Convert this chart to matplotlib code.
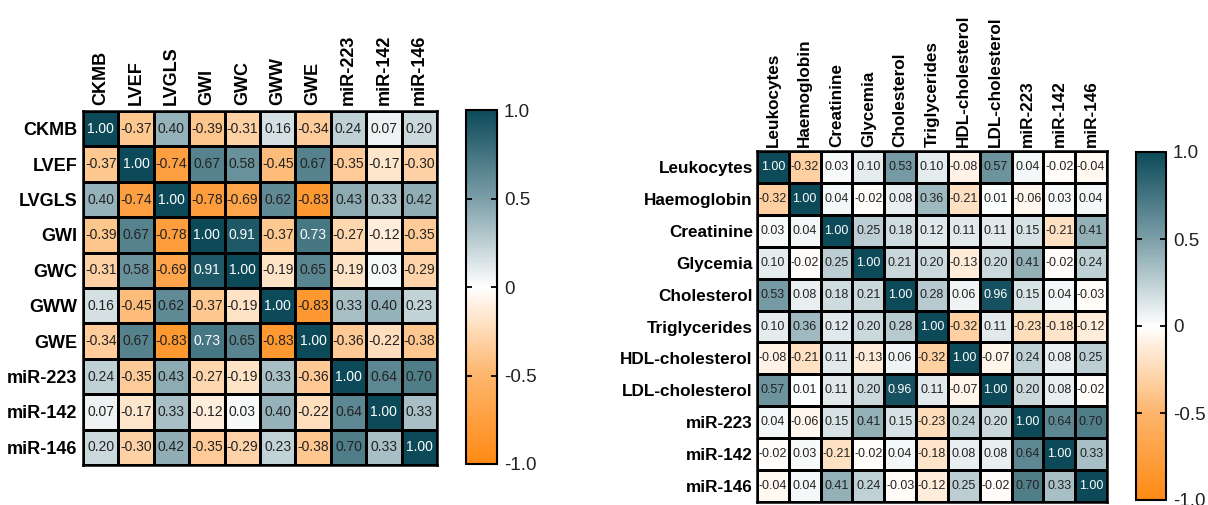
import numpy as np
import matplotlib
matplotlib.use("Agg")
import matplotlib.pyplot as plt
from matplotlib.colors import LinearSegmentedColormap

plt.rcParams['font.family'] = ['Liberation Sans', 'DejaVu Sans']

# left panel: echo / work indices vs miRNA
left_labels = ['CKMB', 'LVEF', 'LVGLS', 'GWI', 'GWC', 'GWW', 'GWE',
               'miR-223', 'miR-142', 'miR-146']
left_corr = [
    [1.00, -0.37, 0.40, -0.39, -0.31, 0.16, -0.34, 0.24, 0.07, 0.20],
    [-0.37, 1.00, -0.74, 0.67, 0.58, -0.45, 0.67, -0.35, -0.17, -0.30],
    [0.40, -0.74, 1.00, -0.78, -0.69, 0.62, -0.83, 0.43, 0.33, 0.42],
    [-0.39, 0.67, -0.78, 1.00, 0.91, -0.37, 0.73, -0.27, -0.12, -0.35],
    [-0.31, 0.58, -0.69, 0.91, 1.00, -0.19, 0.65, -0.19, 0.03, -0.29],
    [0.16, -0.45, 0.62, -0.37, -0.19, 1.00, -0.83, 0.33, 0.40, 0.23],
    [-0.34, 0.67, -0.83, 0.73, 0.65, -0.83, 1.00, -0.36, -0.22, -0.38],
    [0.24, -0.35, 0.43, -0.27, -0.19, 0.33, -0.36, 1.00, 0.64, 0.70],
    [0.07, -0.17, 0.33, -0.12, 0.03, 0.40, -0.22, 0.64, 1.00, 0.33],
    [0.20, -0.30, 0.42, -0.35, -0.29, 0.23, -0.38, 0.70, 0.33, 1.00],
]

# right panel: lab values vs miRNA
right_labels = ['Leukocytes', 'Haemoglobin', 'Creatinine', 'Glycemia',
                'Cholesterol', 'Triglycerides', 'HDL-cholesterol',
                'LDL-cholesterol', 'miR-223', 'miR-142', 'miR-146']
right_corr = [
    [1.00, -0.32, 0.03, 0.10, 0.53, 0.10, -0.08, 0.57, 0.04, -0.02, -0.04],
    [-0.32, 1.00, 0.04, -0.02, 0.08, 0.36, -0.21, 0.01, -0.06, 0.03, 0.04],
    [0.03, 0.04, 1.00, 0.25, 0.18, 0.12, 0.11, 0.11, 0.15, -0.21, 0.41],
    [0.10, -0.02, 0.25, 1.00, 0.21, 0.20, -0.13, 0.20, 0.41, -0.02, 0.24],
    [0.53, 0.08, 0.18, 0.21, 1.00, 0.28, 0.06, 0.96, 0.15, 0.04, -0.03],
    [0.10, 0.36, 0.12, 0.20, 0.28, 1.00, -0.32, 0.11, -0.23, -0.18, -0.12],
    [-0.08, -0.21, 0.11, -0.13, 0.06, -0.32, 1.00, -0.07, 0.24, 0.08, 0.25],
    [0.57, 0.01, 0.11, 0.20, 0.96, 0.11, -0.07, 1.00, 0.20, 0.08, -0.02],
    [0.04, -0.06, 0.15, 0.41, 0.15, -0.23, 0.24, 0.20, 1.00, 0.64, 0.70],
    [-0.02, 0.03, -0.21, -0.02, 0.04, -0.18, 0.08, 0.08, 0.64, 1.00, 0.33],
    [-0.04, 0.04, 0.41, 0.24, -0.03, -0.12, 0.25, -0.02, 0.70, 0.33, 1.00],
]

cbar_ticks = [-1.0, -0.5, 0, 0.5, 1.0]
cbar_ticklabels = ['-1.0', '-0.5', '0', '0.5', '1.0']

cmap = LinearSegmentedColormap.from_list('orange_teal', [
    (0.00, '#FF8A14'),
    (0.25, '#FDB56C'),
    (0.50, '#FFFFFF'),
    (0.75, '#7C9FA8'),
    (1.00, '#0C4A5A'),
])

W, H = 1208, 505
fig = plt.figure(figsize=(W / 100, H / 100), dpi=100)


def px_axes(x0, y0, x1, y1):
    return fig.add_axes([x0 / W, 1 - y1 / H, (x1 - x0) / W, (y1 - y0) / H])


def draw_heatmap(ax, cax, labels, corr, label_fs, cell_fs, pad):
    data = np.array(corr)
    n = len(labels)
    mesh = ax.pcolormesh(data, cmap=cmap, vmin=-1, vmax=1,
                         edgecolors='black', linewidth=0.8)
    ax.set_xlim(0, n)
    ax.set_ylim(n, 0)
    for i in range(n):
        for j in range(n):
            v = data[i, j]
            ax.text(j + 0.5, i + 0.5, f'{v:.2f}', ha='center', va='center',
                    fontsize=cell_fs, color='white' if v > 0.72 else '#222222')
    ax.set_xticks(np.arange(n) + 0.5)
    ax.set_yticks(np.arange(n) + 0.5)
    ax.set_xticklabels(labels, rotation=90, fontsize=label_fs, fontweight='bold')
    ax.set_yticklabels(labels, fontsize=label_fs, fontweight='bold')
    ax.xaxis.tick_top()
    ax.tick_params(length=0, pad=pad)
    for s in ax.spines.values():
        s.set_linewidth(1.8)

    cb = fig.colorbar(mesh, cax=cax)
    cb.set_ticks(cbar_ticks)
    cb.set_ticklabels(cbar_ticklabels)
    cb.outline.set_linewidth(1.5)
    cax.tick_params(direction='in', left=True, right=True, length=4,
                    width=1.3, labelsize=13.5, pad=5, colors='black',
                    labelcolor='#222222')


ax1 = px_axes(83, 111, 437, 465)
cax1 = px_axes(466, 110, 497, 464)
draw_heatmap(ax1, cax1, left_labels, left_corr, 13, 10, 4)

ax2 = px_axes(757, 151, 1107, 502)
cax2 = px_axes(1136, 152, 1166, 500)
draw_heatmap(ax2, cax2, right_labels, right_corr, 12.3, 9, 3)

fig.savefig('out.png', dpi=100)
